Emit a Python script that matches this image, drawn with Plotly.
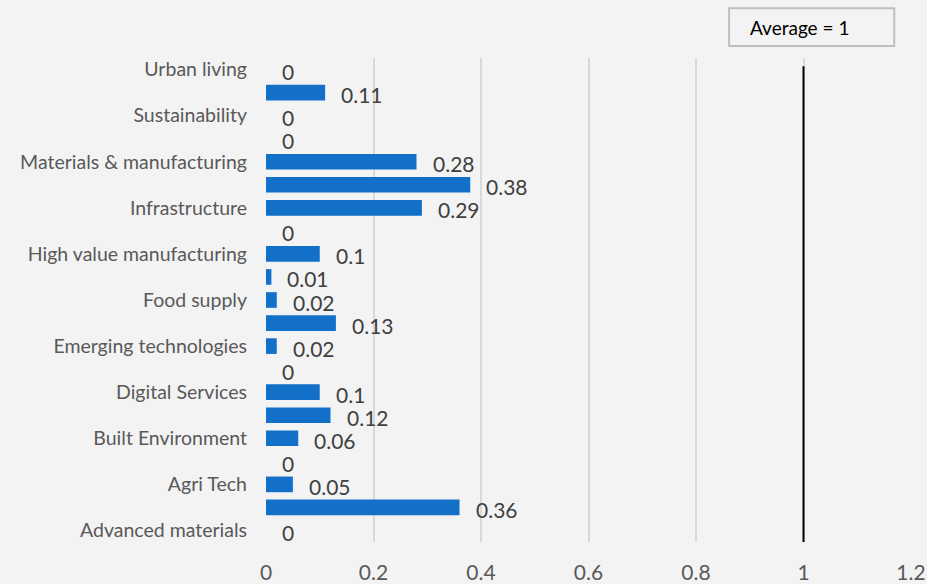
import plotly.graph_objects as go

# Sector scores, listed bottom to top on the chart
scores = [0, 0.36, 0.05, 0, 0.06, 0.12, 0.1, 0, 0.02, 0.13, 0.02,
          0.01, 0.1, 0, 0.29, 0.38, 0.28, 0, 0, 0.11, 0]
# Axis labels shown on every other bar (positions 0, 2, 4, ...)
shown_labels = ["Advanced materials", "Agri Tech", "Built Environment",
                "Digital Services", "Emerging technologies", "Food supply",
                "High value manufacturing", "Infrastructure",
                "Materials & manufacturing", "Sustainability", "Urban living"]
shown_positions = [0, 2, 4, 6, 8, 10, 12, 14, 16, 18, 20]
x_ticks = [0, 0.2, 0.4, 0.6, 0.8, 1, 1.2]
x_tick_text = ["0", "0.2", "0.4", "0.6", "0.8", "1", "1.2"]
AVERAGE = 1

FONT = "Lato"
BAR = "#1270c8"
BG = "#f3f3f3"

positions = list(range(len(scores)))

fig = go.Figure()
fig.add_trace(go.Bar(
    x=scores, y=positions, orientation="h",
    marker=dict(color=BAR, line=dict(width=0)),
    width=0.68, hoverinfo="x",
))

# value labels to the right of each bar end
for pos, val in zip(positions, scores):
    fig.add_annotation(
        x=val, y=pos, xref="x", yref="y", text=f"{val:g}",
        showarrow=False, xanchor="left", yanchor="middle",
        xshift=14, yshift=-2,
        font=dict(family=FONT, size=21, color="#404040"),
    )

# average reference line
fig.add_shape(type="line", xref="x", yref="paper",
              x0=AVERAGE, x1=AVERAGE, y0=0, y1=0.983,
              line=dict(color="#000000", width=2))

# boxed key for the average line
fig.add_shape(type="rect", xref="paper", yref="paper",
              x0=0.718, x1=0.974, y0=1.025, y1=1.103,
              line=dict(color="#bfbfbf", width=2), fillcolor=BG)
fig.add_annotation(
    xref="paper", yref="paper", x=0.747, y=1.064,
    xanchor="left", yanchor="middle", showarrow=False,
    text=f"Average = {AVERAGE:g}",
    font=dict(family=FONT, size=19, color="#000000"),
)

fig.update_layout(
    width=927, height=584,
    margin=dict(l=266, r=16, t=58, b=42),
    paper_bgcolor=BG, plot_bgcolor=BG,
    showlegend=False,
    bargap=0.32,
    xaxis=dict(
        range=[0, 1.2], tickvals=x_ticks, ticktext=x_tick_text,
        showgrid=True, gridcolor="#d9d9d9", gridwidth=2,
        zeroline=False, showline=False, ticks="",
        ticklabelstandoff=16, automargin=False,
        tickfont=dict(family=FONT, size=21, color="#595959"),
        fixedrange=True,
    ),
    yaxis=dict(
        range=[-0.5, len(scores) - 0.5],
        tickvals=shown_positions, ticktext=shown_labels,
        showgrid=False, zeroline=False, showline=False, ticks="",
        ticklabelstandoff=18, automargin=False,
        tickfont=dict(family=FONT, size=19.5, color="#595959"),
        fixedrange=True,
    ),
)

fig.write_html("out.html")
